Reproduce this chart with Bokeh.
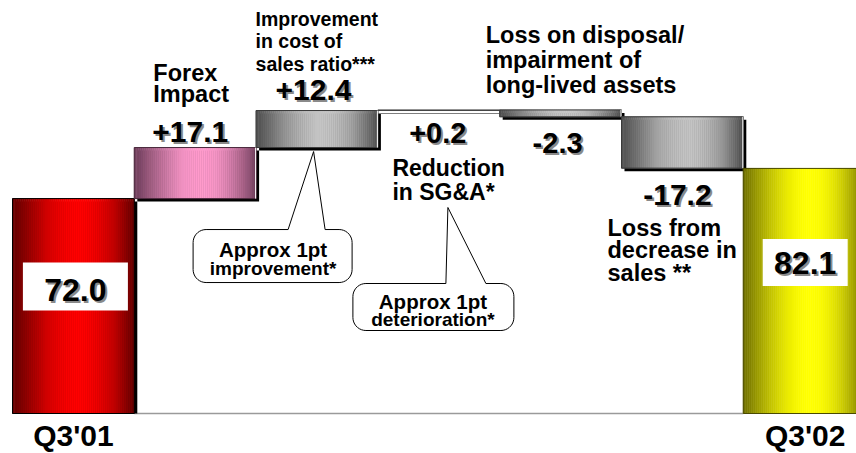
import numpy as np
from bokeh.plotting import figure
from bokeh.models import Range1d
from bokeh.embed import file_html
from bokeh.resources import INLINE
from bokeh.core.properties import value

# ---------------- data ----------------
categories = ["Q3'01", "Forex Impact", "Improvement in cost of sales ratio***",
              "Reduction in SG&A*", "Loss on disposal/impairment of long-lived assets",
              "Loss from decrease in sales **", "Q3'02"]
changes = [72.0, 17.1, 12.4, 0.2, -2.3, -17.2, 82.1]
kinds = ["total", "delta", "delta", "delta", "delta", "delta", "total"]
value_labels = ["72.0", "+17.1", "+12.4", "+0.2", "-2.3", "-17.2", "82.1"]
label_lines = [
    [],
    ["Forex", "Impact"],
    ["Improvement", "in cost of", "sales ratio***"],
    ["Reduction", "in  SG&A*"],
    ["Loss on disposal/", "impairment of", "long-lived assets"],
    ["Loss from", "decrease in", "sales **"],
    [],
]
callout_1 = ["Approx 1pt", "improvement*"]
callout_2 = ["Approx 1pt", "deterioration*"]

# ---------------- geometry ----------------
W, H = 856, 453
PX_X = 121.8   # px per bar slot
PX_Y = 2.985   # px per unit
X0 = 12        # figure px of x = 0
Y0 = 413       # figure px (from top) of value 0
BASE_K = 0.34  # baseline correction (fraction of font size)

def dx(px):
    return (px - X0) / PX_X

def dy(py):
    return (Y0 - py) / PX_Y

def bx(i):   # px of bar left
    return X0 + PX_X * i

def by(v):   # px of value
    return Y0 - PX_Y * v

bottoms, tops = [], []
running = 0.0
for c, k in zip(changes, kinds):
    if k == "total":
        b, t = 0.0, c
        running = c
    else:
        b, t = running, running + c
        running += c
    bottoms.append(min(b, t))
    tops.append(max(b, t))

p = figure(width=W, height=H, x_range=Range1d(-X0 / PX_X, (W - X0) / PX_X),
           y_range=Range1d(-(H - Y0) / PX_Y, Y0 / PX_Y),
           output_backend="svg", toolbar_location=None, min_border=0)
p.axis.visible = False
p.grid.visible = False
p.outline_line_color = None
p.background_fill_color = "white"
p.border_fill_color = "white"

FONT = value("Liberation Sans")

def txt(px, py, s, size, align="left", color="black", off=0):
    p.text(x=[dx(px)], y=[dy(py)], text=[s], x_offset=off,
           y_offset=off - BASE_K * size,
           text_color=color, text_font=FONT, text_font_style="bold",
           text_font_size=value(f"{size}px"), text_align=align,
           text_baseline="alphabetic")

# baseline
p.segment(x0=[1], y0=[0], x1=[6], y1=[0], line_color="#9a9a9a", line_width=1.5)

# ---------------- bars ----------------
palettes = [
    ((100, 0, 0), (255, 0, 0), "#000000"),
    ((112, 62, 92), (255, 155, 205), "#4a2a3c"),
    ((80, 80, 80), (196, 196, 196), "#3a3a3a"),
    None,
    ((80, 80, 80), (196, 196, 196), "#3a3a3a"),
    ((80, 80, 80), (196, 196, 196), "#3a3a3a"),
    ((112, 112, 0), (255, 255, 0), "#4a4a00"),
]

sdx, sdy = 3 / PX_X, 3 / PX_Y
# drop shadows
for i in range(len(changes) - 1):
    b = max(bottoms[i] - sdy, 0)
    p.quad(left=[i + sdx], right=[i + 1 + sdx], bottom=[b], top=[tops[i] - sdy],
           fill_color="black", line_color=None)

N = 60
for i in range(len(changes)):
    pal = palettes[i]
    if pal is None:
        p.quad(left=[i], right=[i + 1], bottom=[bottoms[i]], top=[tops[i]],
               fill_color="white", line_color="#444444", line_width=1)
        continue
    edge, center, outline = pal
    lefts = [i + k / N for k in range(N)]
    rights = [i + (k + 1) / N for k in range(N)]
    cols = []
    for k in range(N):
        t = (k + 0.5) / N
        f = np.sin(np.pi * t ** 1.15) ** 0.9
        rgb = [int(round(e + (c - e) * f)) for e, c in zip(edge, center)]
        cols.append("#%02x%02x%02x" % tuple(rgb))
    p.quad(left=lefts, right=rights, bottom=[bottoms[i]] * N, top=[tops[i]] * N,
           fill_color=cols, line_color=cols, line_width=0.6)
    p.quad(left=[i], right=[i + 1], bottom=[bottoms[i]], top=[tops[i]],
           fill_color=None, line_color=outline, line_width=1)
    if 0 < i < len(changes) - 1:
        p.segment(x0=[i + 1 - 0.5 / PX_X], x1=[i + 1 - 0.5 / PX_X],
                  y0=[bottoms[i]], y1=[tops[i]], line_color="white", line_width=1)

# white value boxes on totals
for i, (cxo, cy_from_top, w, h) in zip([0, 6], [(2, 88, 105, 48), (1, 94, 85, 47)]):
    cx = bx(i) + PX_X / 2 + cxo
    cy = by(tops[i]) + cy_from_top
    p.quad(left=[dx(cx - w / 2)], right=[dx(cx + w / 2)],
           top=[dy(cy - h / 2)], bottom=[dy(cy + h / 2)],
           fill_color="white", line_color=None)

# ---------------- value labels ----------------
# (x offset from bar center, anchor, baseline offset px, size)
vl_style = {
    0: (2, "top", 102, 32),
    1: (-5, "top", -5, 30),
    2: (-3.5, "top", -10, 30),
    3: (-1, "top", 33, 29),
    4: (-3, "bottom", 36, 29),
    5: (-5, "bottom", 37, 30),
    6: (1, "top", 105, 32),
}
for i, lab in enumerate(value_labels):
    xo, anc, off, size = vl_style[i]
    cx = bx(i) + PX_X / 2 + xo
    base = (by(tops[i]) if anc == "top" else by(bottoms[i])) + off
    txt(cx, base, lab, size, "center", "#8a8a8a", 2)
    txt(cx, base, lab, size, "center", "black", 0)

# ---------------- category labels ----------------
# (x offset from bar left, first baseline px, line spacing, size)
cl_style = {
    1: (19, 80, 21, 23.5),
    2: (-0.5, 25, 22.5, 19.5),
    3: (14.5, 175, 24, 23),
    4: (-14, 42, 25, 23.5),
    5: (-14, 235, 22.5, 23.5),
}
for i, lines in enumerate(label_lines):
    if not lines:
        continue
    xo, b0, sp, size = cl_style[i]
    for j, line in enumerate(lines):
        txt(bx(i) + xo, b0 + sp * j, line, size)

# period labels under totals
for i in (0, len(categories) - 1):
    cx = bx(i) + PX_X / 2 + (0 if i == 0 else 1)
    txt(cx, 445, categories[i], 30, "center")

# ---------------- callouts ----------------
def bubble(x0, y0, x1, y1, r, bl, br, apex):
    pts = [(x0 + r, y0), (bl, y0), apex, (br, y0), (x1 - r, y0)]
    def arc(cx, cy, a0, a1):
        for a in np.linspace(np.radians(a0), np.radians(a1), 10):
            pts.append((cx + r * np.cos(a), cy + r * np.sin(a)))
    arc(x1 - r, y0 + r, -90, 0)
    arc(x1 - r, y1 - r, 0, 90)
    arc(x0 + r, y1 - r, 90, 180)
    arc(x0 + r, y0 + r, 180, 270)
    return [dx(q[0]) for q in pts], [dy(q[1]) for q in pts]

callout_sizes = [20.5, 19]

# callout 1 hangs below bar 2, callout 2 below the SG&A label of bar 3
b2l, b2b = bx(2), by(bottoms[2])
xs, ys = bubble(b2l - 63, b2b + 82, b2l + 96, b2b + 135, 13,
                b2l + 32, b2l + 69, (b2l + 57.5, b2b + 4))
p.patch(xs, ys, fill_color="white", line_color="black", line_width=1)
for j, line in enumerate(callout_1):
    txt(b2l + 17, b2b + 109 + 18 * j, line, callout_sizes[j], "center")

b3l = bx(3)
xs, ys = bubble(b3l - 25, 283, b3l + 136, 330, 13,
                b3l + 68, b3l + 108, (b3l + 70, 207))
p.patch(xs, ys, fill_color="white", line_color="black", line_width=1)
for j, line in enumerate(callout_2):
    txt(b3l + 55, 308 + 17.5 * j, line, callout_sizes[j], "center")

open("out.html", "w").write(file_html(p, INLINE))
